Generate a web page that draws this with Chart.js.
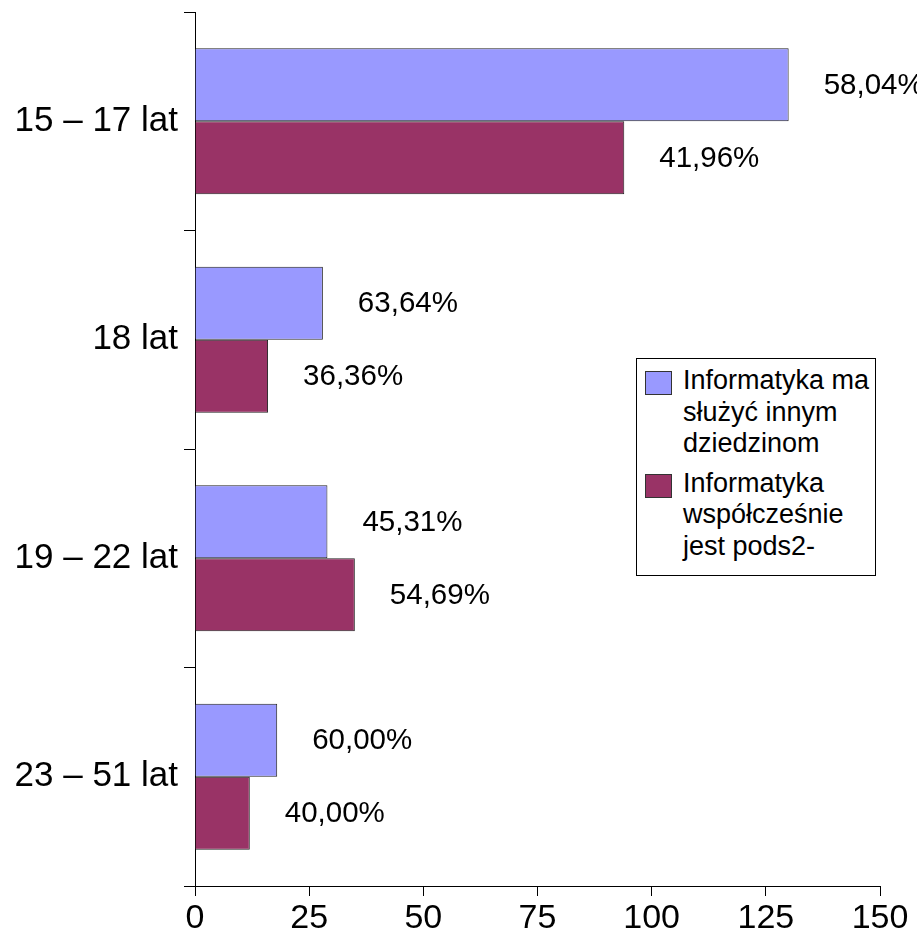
<!DOCTYPE html>
<html>
<head>
<meta charset="utf-8">
<script src="https://cdn.jsdelivr.net/npm/chart.js@4/dist/chart.umd.min.js"></script>
<style>
  html, body { margin: 0; padding: 0; background: #fff; }
  #wrap { position: relative; width: 917px; height: 939px; }
  #legenda {
    position: absolute; left: 636px; top: 358px; width: 240px; height: 218px;
    border: 1px solid #000; background: #fff; box-sizing: border-box;
    font-family: "Liberation Sans", Arial, sans-serif; font-size: 27px; line-height: 31.5px; color: #000;
    padding: 6px 0 0 8px;
  }
  .item { position: relative; padding-left: 38px; margin-bottom: 8px; }
  .kolor { position: absolute; left: 0; top: 6px; width: 25px; height: 22px; border: 1px solid #333; }
</style>
</head>
<body>
<div id="wrap">
  <canvas id="grafico" width="917" height="939"></canvas>
  <div id="legenda"></div>
</div>
<script>
const kategorie = ['15 – 17 lat', '18 lat', '19 – 22 lat', '23 – 51 lat'];
const nazwySerii = [
  ['Informatyka ma', 'służyć innym', 'dziedzinom'],
  ['Informatyka', 'współcześnie', 'jest pods2-']
];
const sluzyInnym = [130, 28, 29, 18];
const podstawa = [94, 16, 35, 12];
const kolory = ['#9999FF', '#993366'];
const ticksX = [0, 25, 50, 75, 100, 125, 150];

const czcionka = '"Liberation Sans", Arial, sans-serif';

// etykiety z procentami obok słupków
const etykietyProcent = {
  id: 'etykietyProcent',
  afterDatasetsDraw(chart) {
    const c = chart.ctx;
    c.save();
    c.font = '29.5px ' + czcionka;
    c.fillStyle = '#000';
    c.textBaseline = 'middle';
    c.textAlign = 'left';
    chart.data.datasets.forEach((ds, i) => {
      chart.getDatasetMeta(i).data.forEach((bar, j) => {
        const suma = chart.data.datasets.reduce((s, d) => s + d.data[j], 0);
        const txt = (ds.data[j] / suma * 100).toFixed(2).replace('.', ',') + '%';
        c.fillText(txt, bar.x + 35, bar.y + 1);
      });
    });
    c.restore();
  }
};

const ctx = document.getElementById('grafico').getContext('2d');
const grafico = new Chart(ctx, {
  type: 'bar',
  data: {
    labels: kategorie,
    datasets: [
      { label: nazwySerii[0].join(' '), data: sluzyInnym, backgroundColor: kolory[0], borderColor: '#222', borderWidth: 1 },
      { label: nazwySerii[1].join(' '), data: podstawa, backgroundColor: kolory[1], borderColor: '#222', borderWidth: 1 }
    ]
  },
  options: {
    indexAxis: 'y',
    responsive: false,
    animation: false,
    layout: { padding: { top: 0, right: 37, left: 0, bottom: 0 } },
    plugins: { legend: { display: false }, tooltip: { enabled: false } },
    datasets: { bar: { categoryPercentage: 0.668, barPercentage: 1 } },
    scales: {
      x: {
        min: 0, max: 150,
        afterBuildTicks: s => { s.ticks = ticksX.map(v => ({ value: v })); },
        afterFit: s => { s.height = 53; },
        grid: { drawOnChartArea: false, tickLength: 10, tickColor: '#000' },
        border: { color: '#000', width: 1 },
        ticks: { color: '#000', padding: 2, font: { family: czcionka, size: 34 } }
      },
      y: {
        offset: true,
        afterFit: s => { s.width = 195; s.paddingTop = 12; s.paddingBottom = 0; },
        grid: { offset: true, drawOnChartArea: false, tickLength: 11, tickColor: '#000' },
        border: { color: '#000', width: 1 },
        ticks: { color: '#000', padding: 6, font: { family: czcionka, size: 35 } }
      }
    }
  },
  plugins: [etykietyProcent]
});

document.getElementById('legenda').innerHTML = nazwySerii.map((linie, i) => `
  <div class="item">
    <span class="kolor" style="background:${kolory[i]}"></span>
    ${linie.join('<br>')}
  </div>`).join('');
</script>
</body>
</html>
